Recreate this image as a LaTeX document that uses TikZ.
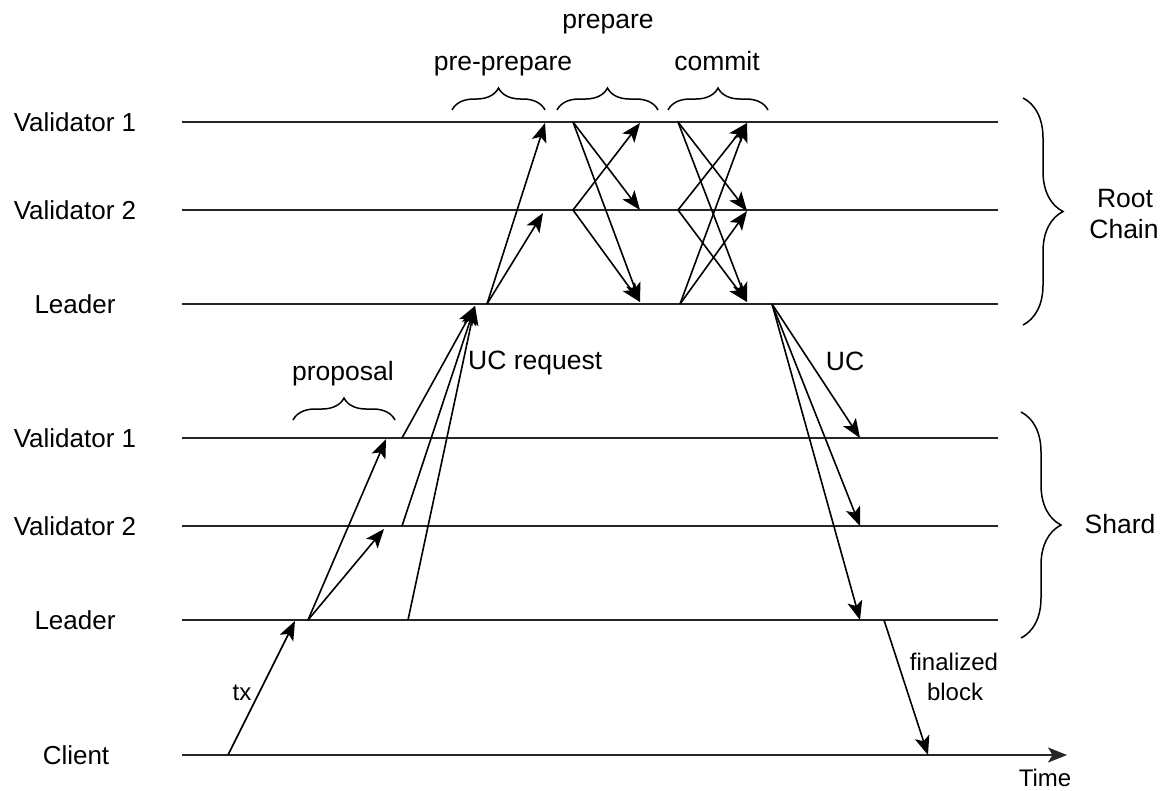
\documentclass[tikz,border=0pt]{standalone}
\usepackage{fontspec}
\setmainfont{Liberation Sans}
\usetikzlibrary{arrows.meta,decorations.pathreplacing}
\begin{document}
\begin{tikzpicture}[x=1pt,y=-1pt,
  head/.tip={Stealth[length=19pt,width=15pt,inset=4.5pt]},
  timeline/.style={line width=1.9pt, draw=black!85},
  msg/.style={line width=1.6pt, -head},
  lbl/.style={font=\fontsize{26.5}{30}\selectfont, inner sep=0pt, anchor=base},
  smalllbl/.style={font=\fontsize{24}{30}\selectfont, inner sep=0pt, anchor=base},
  rowlbl/.style={font=\fontsize{26}{30}\selectfont, inner sep=0pt, anchor=base},
  phasebrace/.style={decorate, decoration={brace, amplitude=22pt}, line width=1.5pt},
  groupbrace/.style={decorate, decoration={brace, amplitude=40pt}, line width=1.5pt},
]
\useasboundingbox (0,0) rectangle (1166,790);

% ---- row labels ----
\node[rowlbl] (lblRV1) at (75,131) {Validator 1};
\node[rowlbl] (lblRV2) at (75,219) {Validator 2};
\node[rowlbl] (lblRL)  at (75,313) {Leader};
\node[rowlbl] (lblSV1) at (75,447) {Validator 1};
\node[rowlbl] (lblSV2) at (75,535) {Validator 2};
\node[rowlbl] (lblSL)  at (75,629) {Leader};
\node[rowlbl] (lblCl)  at (76,764) {Client};

% ---- timelines ----
\coordinate (rv1S) at (182,122);  \coordinate (rv1E) at (998,122);
\coordinate (rv2S) at (182,210);  \coordinate (rv2E) at (998,210);
\coordinate (rlS)  at (182,304);  \coordinate (rlE)  at (998,304);
\coordinate (sv1S) at (182,438);  \coordinate (sv1E) at (998,438);
\coordinate (sv2S) at (182,526);  \coordinate (sv2E) at (998,526);
\coordinate (slS)  at (182,620);  \coordinate (slE)  at (998,620);
\coordinate (clS)  at (182,755);  \coordinate (clE)  at (1067,755);

\foreach \t in {rv1,rv2,rl,sv1,sv2,sl}{
  \draw[timeline] (\t S) -- (\t E);
}
\draw[timeline, -head] (clS) -- (clE);

% ---- events ----
% client
\coordinate (cTx)  at (228,755);
\coordinate (cFin) at (928,755);
% shard leader
\coordinate (slIn)  at (295,621);
\coordinate (slOut) at (308,620);
\coordinate (slReq) at (408,620);
\coordinate (slUC)  at (860,620);
\coordinate (slFin) at (884,620);
% shard validators
\coordinate (sv1In)  at (386,439);
\coordinate (sv1Req) at (402,438);
\coordinate (sv1UC)  at (860,438);
\coordinate (sv2In)  at (384,529);
\coordinate (sv2Req) at (402,526);
\coordinate (sv2UC)  at (860,526);
% root leader
\coordinate (rlIn)    at (475,306);
\coordinate (rlPP)    at (487,304);
\coordinate (rlPrIn)  at (640,302);
\coordinate (rlCmOut) at (680,304);
\coordinate (rlCmIn)  at (747,302);
\coordinate (rlUC)    at (772,304);
% root validators
\coordinate (rv1PP)    at (545,123);
\coordinate (rv1PrOut) at (573,122);
\coordinate (rv1PrIn)  at (640,123);
\coordinate (rv1CmOut) at (678,122);
\coordinate (rv1CmIn)  at (747,123);
\coordinate (rv2PP)    at (543,213);
\coordinate (rv2PrOut) at (573,210);
\coordinate (rv2PrIn)  at (640,210);
\coordinate (rv2CmOut) at (678,210);
\coordinate (rv2CmIn)  at (747,211);

% ---- messages ----
\draw[msg] (cTx) -- (slIn);
\draw[msg] (slOut) -- (sv1In);
\draw[msg] (slOut) -- (sv2In);
\draw[msg] (sv1Req) -- (rlIn);
\draw[msg] (sv2Req) -- (rlIn);
\draw[msg] (slReq) -- (rlIn);
\draw[msg] (rlPP) -- (rv1PP);
\draw[msg] (rlPP) -- (rv2PP);
\draw[msg] (rv1PrOut) -- (rv2PrIn);
\draw[msg] (rv1PrOut) -- (rlPrIn);
\draw[msg] (rv2PrOut) -- (rv1PrIn);
\draw[msg] (rv2PrOut) -- (rlPrIn);
\draw[msg] (rv1CmOut) -- (rv2CmIn);
\draw[msg] (rv1CmOut) -- (rlCmIn);
\draw[msg] (rv2CmOut) -- (rv1CmIn);
\draw[msg] (rv2CmOut) -- (rlCmIn);
\draw[msg] (rlCmOut) -- (rv1CmIn);
\draw[msg] (rlCmOut) -- (rv2CmIn);
\draw[msg] (rlUC) -- (sv1UC);
\draw[msg] (rlUC) -- (sv2UC);
\draw[msg] (rlUC) -- (slUC);
\draw[msg] (slFin) -- (cFin);

% ---- phase braces ----
\coordinate (ppA) at (452,110); \coordinate (ppB) at (545,110);
\coordinate (prA) at (557,110); \coordinate (prB) at (658,110);
\coordinate (cmA) at (668,110); \coordinate (cmB) at (768,110);
\coordinate (poA) at (293,420); \coordinate (poB) at (395,420);
\draw[phasebrace] (ppA) -- (ppB);
\draw[phasebrace] (prA) -- (prB);
\draw[phasebrace] (cmA) -- (cmB);
\draw[phasebrace] (poA) -- (poB);

% ---- group braces ----
\coordinate (rootA) at (1023,98);  \coordinate (rootB) at (1023,325);
\coordinate (shA)   at (1021,412); \coordinate (shB)   at (1021,638);
\draw[groupbrace] (rootA) -- (rootB);
\draw[groupbrace] (shA) -- (shB);

% ---- labels ----
\node[lbl] (tPrepare)    at (608,28)  {prepare};
\node[lbl] (tPrePrepare) at (503,70)  {pre-prepare};
\node[lbl] (tCommit)     at (717,70)  {commit};
\node[lbl] (tProposal)   at (343,380) {proposal};
\node[lbl, anchor=base west] (tUCreq) at (468,369) {UC request};
\node[lbl] (tUC)         at (845,370) {UC};
\node[smalllbl] (tTx)    at (242,700) {tx};
\node[smalllbl] (tFin)   at (954,670) {finalized};
\node[smalllbl] (tBlock) at (955,700) {block};
\node[smalllbl] (tTime)  at (1045,786) {Time};
\node[lbl] (tRoot)  at (1125,207) {Root};
\node[lbl] (tChain) at (1124,238) {Chain};
\node[lbl] (tShard) at (1120,533) {Shard};
\end{tikzpicture}
\end{document}
